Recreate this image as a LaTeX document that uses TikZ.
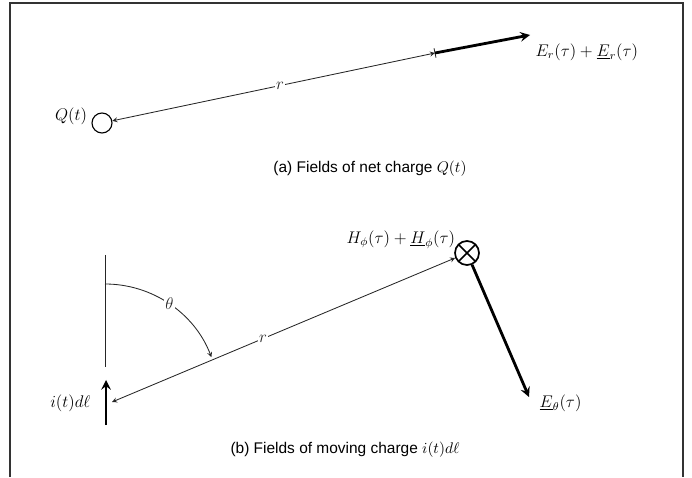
\documentclass[tikz,border=0pt]{standalone}
\usepackage{fontspec}
\setsansfont{Liberation Sans}
\usetikzlibrary{calc,positioning}

\tikzset{
  thinline/.style={line width=0.6pt, black!85},
  fieldvec/.style={->, line width=2pt},
  frameline/.style={line width=1.4pt, black!80},
  caption/.style={font=\sffamily\fontsize{11}{13}\selectfont, inner sep=1pt},
  lbl/.style={font=\fontsize{12}{14}\selectfont, inner sep=1pt},
  charge/.style={circle, draw, line width=0.8pt, minimum size=0.5cm, inner sep=0pt},
  intopage/.style={circle, draw, line width=1.2pt, minimum size=0.6cm, inner sep=0pt,
    path picture={\draw[line width=1.2pt]
      (path picture bounding box.north west) -- (path picture bounding box.south east)
      (path picture bounding box.north east) -- (path picture bounding box.south west);}}
}

\begin{document}
\begin{tikzpicture}[>=stealth]
    \useasboundingbox (0,0) rectangle (17.3,11.925);

    % Frame
    \draw[frameline] (0.25,0) -- (0.25,11.86) -- (17.075,11.86) -- (17.075,0);

    % (a) net charge
    \node[charge] (q) at (2.55,8.85) {};
    \node[lbl, anchor=east] (qlab) at ([xshift=-2pt, yshift=0.17cm]q.west) {$Q(t)$};
    \coordinate (tick) at (10.875,10.6);
    \coordinate (ertip) at (13.25,11.05);
    \draw[thinline, <->] (q) -- (tick) node[pos=0.52, fill=white, lbl] (ra) {$r$};
    \draw[thinline] ($(tick)!0.12cm!90:(q)$) -- ($(tick)!0.12cm!-90:(q)$);
    \draw[fieldvec] (tick) -- (ertip);
    \node[lbl, anchor=west] (erlab) at (13.35,10.63) {$E_r(\tau) + \underline{E}_r(\tau)$};

    \node[caption] (capa) at (9.25,7.7) {(a) Fields of net charge $Q(t)$};

    % (b) moving charge
    \coordinate (chg) at (2.625,1.975);
    \coordinate (axtop) at (2.625,5.55);
    \coordinate (axbot) at (2.625,2.75);
    \coordinate (dlbot) at (2.65,1.3);
    \coordinate (dltop) at (2.65,2.425);
    \coordinate (src) at (2.8,1.875);
    \coordinate (ethtip) at (13.225,2.0);

    \draw[thinline] (axtop) -- (axbot);
    \draw[fieldvec] (dlbot) -- (dltop);
    \node[lbl, anchor=east] (dllab) at (2.3,1.85) {$i(t)d\ell$};

    \node[intopage] (h) at (11.675,5.6) {};
    \node[lbl, anchor=east] (hlab) at (11.42,5.93) {$H_\phi(\tau) + \underline{H}_\phi(\tau)$};

    \draw[thinline, <->] (src) -- (h) node[pos=0.44, fill=white, lbl] (rb) {$r$};
    \draw[thinline, ->] ($(chg)+(0,2.85)$) arc[start angle=90, end angle=21, radius=2.85]
        node[pos=0.5, fill=white, lbl] (th) {$\theta$};

    \draw[fieldvec] (h) -- (ethtip);
    \node[lbl, anchor=west] (ethlab) at (13.45,1.85) {$\underline{E}_\theta(\tau)$};

    \node[caption] (capb) at (8.625,0.675) {(b) Fields of moving charge $i(t)d\ell$};
\end{tikzpicture}
\end{document}
